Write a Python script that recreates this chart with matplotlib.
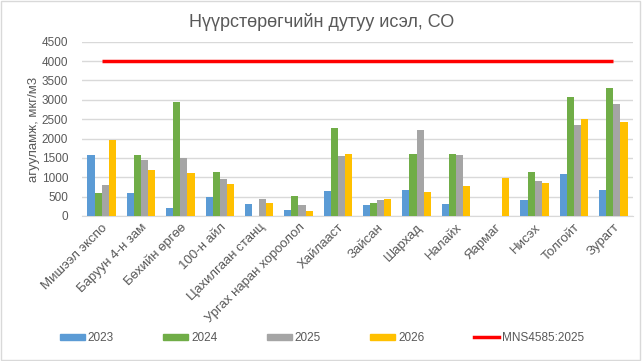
import numpy as np
import matplotlib
matplotlib.use("Agg")
import matplotlib.pyplot as plt
from matplotlib.lines import Line2D
from matplotlib.patches import Patch, Rectangle

plt.rcParams['font.family'] = ['Liberation Sans', 'DejaVu Sans']

stations = ["Мишээл экспо", "Баруун 4-н зам", "Бөхийн өргөө", "100-н айл",
            "Цахилгаан станц", "Ургах наран хороолол", "Хайлааст", "Зайсан",
            "Шархад", "Налайх", "Яармаг", "Нисэх", "Толгойт", "Зурагт"]
y2023 = [1575, 600, 210, 495, 315, 160, 650, 285, 670, 310, 0, 415, 1085, 670]
y2024 = [600, 1575, 2945, 1135, 0, 520, 2275, 335, 1600, 1600, 0, 1140, 3070, 3305]
y2025 = [800, 1445, 1495, 955, 440, 285, 1550, 415, 2220, 1575, 0, 905, 2350, 2890]
y2026 = [1960, 1190, 1110, 830, 340, 130, 1600, 440, 620, 775, 985, 855, 2505, 2425]
limit = [4000] * len(stations)

series = [("2023", y2023, "#5b9bd5"), ("2024", y2024, "#70ad47"),
          ("2025", y2025, "#a5a5a5"), ("2026", y2026, "#ffc000")]

fig = plt.figure(figsize=(6.43, 3.61), dpi=100)
ax = fig.add_axes([0.1275, 0.4017, 0.857, 0.4828])

x = np.arange(len(stations))
w = 0.18
for k, (name, vals, col) in enumerate(series):
    ax.bar(x + (k - 1.5) * w, vals, w, color=col, zorder=3)
ax.plot(x, limit, color="#ff0000", lw=2.5, zorder=4, solid_capstyle="butt")

ax.set_xlim(-0.5, len(stations) - 0.5)
ax.set_ylim(0, 4500)
ax.set_yticks(np.arange(0, 4501, 500))
ax.grid(axis="y", color="#d9d9d9", lw=1, zorder=0)
for s in ["top", "right", "left"]:
    ax.spines[s].set_visible(False)
ax.spines["bottom"].set_color("#d9d9d9")
ax.tick_params(axis="both", length=0, colors="#595959")
ax.tick_params(axis="y", pad=10, labelsize=8.5)
ax.tick_params(axis="x", pad=4, labelsize=9.5)
ax.set_xticks(x)
ax.set_xticklabels(stations, rotation=45, ha="right", rotation_mode="anchor")

fig.text(34 / 643, 1 - 129 / 361, "агууламж, мкг/м3", rotation=90, ha="center",
         va="center", fontsize=9.5, color="#595959")
fig.text(0.5, 1 - 22 / 361, "Нүүрстөрөгчийн дутуу исэл, СО", ha="center", va="center",
         fontsize=13, color="#595959")

handles = [Patch(color=c, label=n) for n, _, c in series]
handles.append(Line2D([0], [0], color="#ff0000", lw=2.5, label="MNS4585:2025"))
leg = fig.legend(handles=handles, loc="center left", bbox_to_anchor=(0.093, 1 - 338 / 361),
                 ncol=5, frameon=False, fontsize=8.5, handlelength=2.1,
                 handleheight=0.45, columnspacing=4.2, handletextpad=0.25,
                 borderpad=0, borderaxespad=0)
for t in leg.get_texts():
    t.set_color("#595959")

fig.patches.append(Rectangle((0.002, 0.003), 0.994, 0.994, transform=fig.transFigure,
                             fill=False, edgecolor="#d9d9d9", lw=1))

fig.savefig("out.png", dpi=100)
